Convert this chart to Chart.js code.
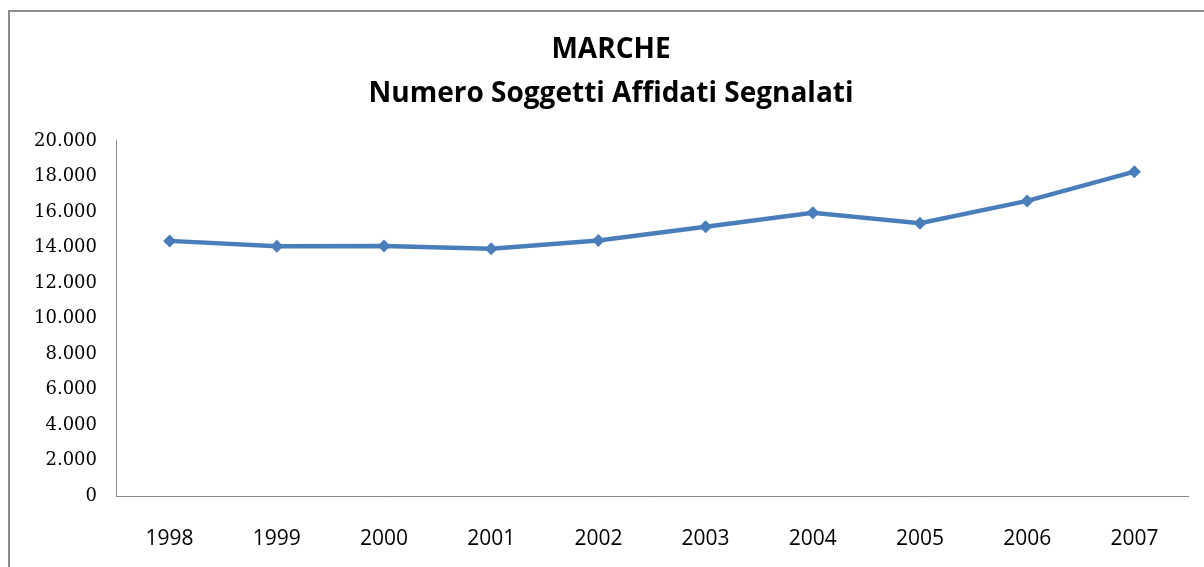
<!DOCTYPE html>
<html>
<head>
<meta charset="utf-8">
<script src="https://cdn.jsdelivr.net/npm/chart.js@4/dist/chart.umd.min.js"></script>
<style>
  html, body { margin: 0; padding: 0; background: #fff; overflow: hidden; }
  #wrap { position: relative; width: 1204px; height: 567px; }
</style>
</head>
<body>
<div id="wrap"><canvas id="chart" width="1204" height="567"></canvas></div>
<script>
// ===== DATI =====
const anni = ["1998", "1999", "2000", "2001", "2002", "2003", "2004", "2005", "2006", "2007"];
const soggetti = [14370, 14070, 14080, 13920, 14390, 15170, 15960, 15360, 16620, 18270];
const titolo = ["MARCHE", "Numero Soggetti Affidati Segnalati"];

// separatore migliaia con il punto
function fmt(v) {
  return String(v).replace(/\B(?=(\d{3})+(?!\d))/g, ".");
}

// cornice grigia del grafico (tagliata a destra e in basso)
const cornice = {
  id: "cornice",
  beforeDraw(chart) {
    const ctx = chart.ctx;
    ctx.save();
    ctx.strokeStyle = "#8c8c8c";
    ctx.lineWidth = 2;
    ctx.strokeRect(9, 11, 1400, 800);
    ctx.restore();
  }
};

new Chart(document.getElementById("chart"), {
  type: "line",
  data: {
    labels: anni,
    datasets: [{
      data: soggetti,
      borderColor: "#4a7ebb",
      backgroundColor: "#4a7ebb",
      borderWidth: 4.5,
      pointStyle: "rectRot",
      pointRadius: 6.5,
      pointBorderWidth: 0,
      tension: 0
    }]
  },
  options: {
    responsive: false,
    animation: false,
    layout: { padding: { left: 34, right: 16, top: 0, bottom: 0 } },
    plugins: {
      legend: { display: false },
      tooltip: { enabled: false },
      title: {
        display: true,
        text: titolo,
        color: "#000",
        font: { family: "Open Sans", size: 28, weight: "bold", lineHeight: 1.57 },
        padding: { top: 28, bottom: 25 }
      }
    },
    scales: {
      x: {
        offset: true,
        grid: { display: false, drawTicks: false, offset: true },
        border: { display: true, color: "#868686", width: 1 },
        ticks: {
          color: "#000",
          font: { family: "Open Sans", size: 21 },
          padding: 30,
          maxRotation: 0
        },
        afterFit(scale) { scale.height = 71; }
      },
      y: {
        min: 0,
        max: 20000,
        grid: { display: false, drawTicks: false },
        border: { display: true, color: "#868686", width: 1 },
        ticks: {
          stepSize: 2000,
          color: "#000",
          font: { family: "DejaVu Serif", size: 18 },
          padding: 19,
          callback: (v) => fmt(v)
        },
        afterFit(scale) { scale.width = 82; }
      }
    }
  },
  plugins: [cornice]
});
</script>
</body>
</html>
